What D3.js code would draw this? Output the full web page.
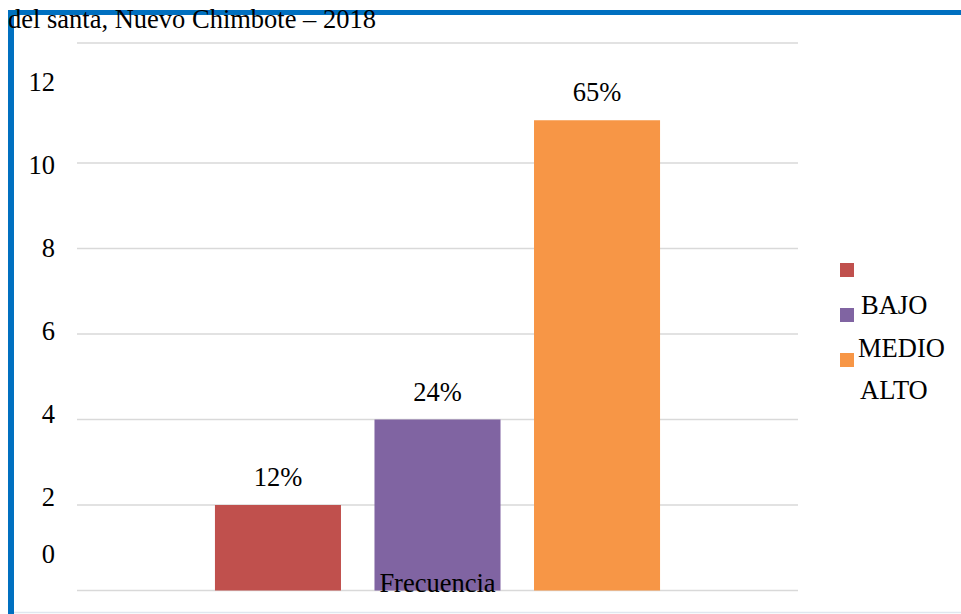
<!DOCTYPE html>
<html>
<head>
<meta charset="utf-8">
<script src="https://cdn.jsdelivr.net/npm/d3@7"></script>
<style>
  html, body { margin: 0; padding: 0; background: #fff; }
  svg { display: block; }
  text { font-family: "Liberation Serif", "Times New Roman", serif; fill: #000; }
</style>
</head>
<body>
<svg id="chart" width="961" height="614"></svg>
<script>
// Chart data
const title = "del santa, Nuevo Chimbote – 2018";
const categories = ["Frecuencia"];
const seriesNames = ["BAJO", "MEDIO", "ALTO"];
const seriesValues = [2, 4, 11];
const seriesLabels = ["12%", "24%", "65%"];
const seriesColors = ["#C0504D", "#8064A2", "#F79646"];
const yTicks = [0, 2, 4, 6, 8, 10, 12];
const gridTicks = [0, 2, 4, 6, 8, 10];

const svg = d3.select("#chart");
const W = 961, H = 614;
const FONT = 26.5;

// Plot area
const plot = { left: 77, right: 798, top: 43, bottom: 590.5 };

const x0 = d3.scaleBand().domain(categories).range([plot.left, plot.right]).paddingInner(0).paddingOuter(0.09);
const x1 = d3.scaleBand().domain(seriesNames).range([0, x0.bandwidth()]).paddingInner(0.21).paddingOuter(0.52);
const y = d3.scaleLinear().domain([0, 12]).range([plot.bottom, 77.5]);

// Tick labels sit on their own (slightly compressed) vertical positions
const yLabel = d3.scaleLinear().domain([0, 2, 12]).range([563, 506, 91]);

// Faint frame line along the bottom
svg.append("line")
  .attr("x1", 14).attr("x2", W).attr("y1", 612.5).attr("y2", 612.5)
  .attr("stroke", "#dfe7ef").attr("stroke-width", 1.5);

// Gridlines
const grid = svg.append("g");
grid.selectAll("line.g").data(gridTicks).join("line")
  .attr("class", "g")
  .attr("x1", plot.left).attr("x2", plot.right)
  .attr("y1", d => y(d)).attr("y2", d => y(d))
  .attr("stroke", "#d9d9d9").attr("stroke-width", 1.5);
grid.append("line")
  .attr("x1", plot.left).attr("x2", plot.right)
  .attr("y1", plot.top).attr("y2", plot.top)
  .attr("stroke", "#d9d9d9").attr("stroke-width", 1.5);

// Y axis labels
svg.append("g").selectAll("text").data(yTicks).join("text")
  .attr("x", 55)
  .attr("y", d => yLabel(d))
  .attr("text-anchor", "end")
  .attr("font-size", FONT)
  .text(d => d);

// Bars
const data = seriesNames.map((s, i) => ({ cat: categories[0], name: s, value: seriesValues[i], label: seriesLabels[i], color: seriesColors[i] }));
const bars = svg.append("g");
bars.selectAll("rect").data(data).join("rect")
  .attr("x", d => x0(d.cat) + x1(d.name))
  .attr("y", d => y(d.value))
  .attr("width", x1.bandwidth())
  .attr("height", d => y(0) - y(d.value))
  .attr("fill", d => d.color);

// Value labels
bars.selectAll("text").data(data).join("text")
  .attr("x", d => x0(d.cat) + x1(d.name) + x1.bandwidth() / 2)
  .attr("y", d => y(d.value) - 19)
  .attr("text-anchor", "middle")
  .attr("font-size", FONT)
  .text(d => d.label);

// Category label
svg.append("text")
  .attr("x", x0(categories[0]) + x0.bandwidth() / 2)
  .attr("y", 592)
  .attr("text-anchor", "middle")
  .attr("font-size", FONT)
  .text(categories[0]);

// Legend: swatches and names step down the right side
const legend = svg.append("g");
legend.selectAll("rect").data(data).join("rect")
  .attr("x", 840)
  .attr("y", (d, i) => 263 + i * 45)
  .attr("width", 14).attr("height", 14)
  .attr("fill", d => d.color);
legend.selectAll("text").data(data).join("text")
  .attr("x", (d, i) => [861, 858, 860][i])
  .attr("y", (d, i) => 314 + i * 42.5)
  .attr("font-size", FONT)
  .text(d => d.name);

// Blue frame on top and left
svg.append("rect").attr("x", 8).attr("y", 10).attr("width", W - 8).attr("height", 5).attr("fill", "#0070C0");
svg.append("rect").attr("x", 8).attr("y", 10).attr("width", 6).attr("height", H - 10).attr("fill", "#0070C0");

// Title, drawn over the frame
svg.append("text")
  .attr("x", 8).attr("y", 28)
  .attr("font-size", FONT)
  .text(title);
</script>
</body>
</html>
